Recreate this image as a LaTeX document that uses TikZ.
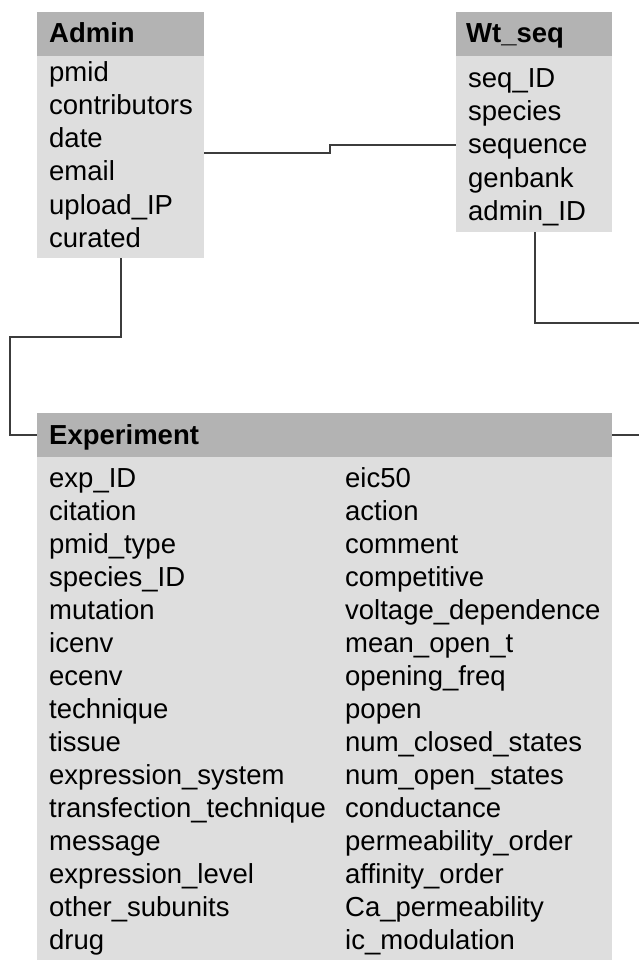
\documentclass[tikz,border=0pt]{standalone}
\usepackage{fontspec}
\newfontfamily\tabfont{Liberation Sans}
\usetikzlibrary{calc}
\definecolor{hdr}{RGB}{179,179,179}
\definecolor{bdy}{RGB}{222,222,222}
\definecolor{ln}{RGB}{60,60,60}
\tikzset{
  body/.style={fill=bdy, draw=none, inner sep=0pt, outer sep=0pt, anchor=north west},
  head/.style={fill=hdr, draw=none, inner sep=0pt, outer sep=0pt, anchor=north west},
  title/.style={anchor=base west, inner sep=0pt, font=\tabfont\bfseries\fontsize{27.5}{33}\selectfont},
  row/.style={anchor=base west, inner sep=0pt, font=\tabfont\fontsize{27.5}{33}\selectfont},
  conn/.style={draw=ln, line width=1.5pt}
}
\begin{document}
\begin{tikzpicture}[x=1pt,y=-1pt]
\useasboundingbox (0,0) rectangle (639,960);
\clip (0,0) rectangle (639,960);
\fill[white] (0,0) rectangle (639,960);
% Admin
\node[body, minimum width=167pt, minimum height=246pt] (admin) at (37,12) {};
\node[head, minimum width=167pt, minimum height=44pt] (adminH) at (37,12) {};
\node[title] (adminT) at (49,43) {Admin};
\foreach \t [count=\i] in {pmid,contributors,date,email,upload\_IP,curated}
  \node[row] (adm\i) at (49,{82+33*(\i-1)}) {\t};
% Wt_seq
\node[body, minimum width=156pt, minimum height=220pt] (wt) at (456,12) {};
\node[head, minimum width=156pt, minimum height=44pt] (wtH) at (456,12) {};
\node[title] (wtT) at (466,43) {Wt\_seq};
\foreach \t [count=\i] in {seq\_ID,species,sequence,genbank,admin\_ID}
  \node[row] (wt\i) at (468,{88+33*(\i-1)}) {\t};
% Experiment
\node[body, minimum width=575pt, minimum height=560pt] (exp) at (37,413) {};
\node[head, minimum width=575pt, minimum height=44pt] (expH) at (37,413) {};
\node[title] (expT) at (49,444) {Experiment};
\foreach \t [count=\i] in {exp\_ID,citation,pmid\_type,species\_ID,mutation,icenv,ecenv,technique,tissue,expression\_system,transfection\_technique,message,expression\_level,other\_subunits,drug}
  \node[row] (ea\i) at (49,{487+33*(\i-1)}) {\t};
\foreach \t [count=\i] in {eic50,action,comment,competitive,voltage\_dependence,mean\_open\_t,opening\_freq,popen,num\_closed\_states,num\_open\_states,conductance,permeability\_order,affinity\_order,Ca\_permeability,ic\_modulation}
  \node[row] (eb\i) at (345,{487+33*(\i-1)}) {\t};
% connectors
\coordinate (j1) at (330,153);
\coordinate (j2) at (330,145);
\draw[conn] (admin.east |- j1) -- (j1) -- (j2) -- (wt.west |- j2);
\coordinate (k1) at (121,337);
\coordinate (k2) at (10,435);
\draw[conn] (admin.south -| k1) -- (k1) -| (k2) -- (exp.west |- k2);
\coordinate (w1) at (535,323);
\coordinate (w2) at (639,323);
\draw[conn] (wt.south -| w1) -- (w1) -- (w2);
\coordinate (e1) at (639,435);
\draw[conn] (exp.east |- e1) -- (e1);
\end{tikzpicture}
\end{document}
